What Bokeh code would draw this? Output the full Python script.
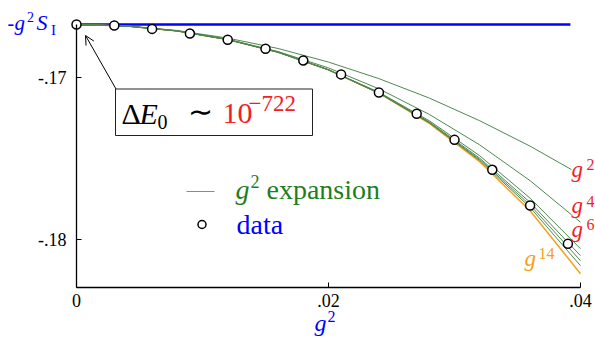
from bokeh.plotting import figure
from bokeh.models import Label, Arrow, OpenHead, BoxAnnotation, FixedTicker, CustomJSTickFormatter
from bokeh.embed import file_html
from bokeh.resources import INLINE

# ---------------- data ----------------
G2_DATA = [0.000, 0.003, 0.006, 0.009, 0.012, 0.015, 0.018, 0.021, 0.024, 0.027, 0.030, 0.033, 0.036, 0.039]
E_DATA = [-0.16671, -0.16677, -0.16698, -0.16727, -0.16765, -0.16821, -0.16893, -0.16979,
          -0.17091, -0.17222, -0.17383, -0.17568, -0.17788, -0.18025]

G2_GRID = [0.000, 0.004, 0.008, 0.012, 0.016, 0.020, 0.024, 0.028, 0.032, 0.036, 0.040]
EXP_G2 = [-0.16671, -0.16680, -0.16708, -0.16755, -0.16819, -0.16903, -0.17005, -0.17125, -0.17265, -0.17422, -0.17598]
EXP_G4 = [-0.16671, -0.16681, -0.16710, -0.16762, -0.16838, -0.16939, -0.17068, -0.17226, -0.17414, -0.17635, -0.17891]
EXP_G6 = [-0.16671, -0.16681, -0.16711, -0.16764, -0.16842, -0.16950, -0.17089, -0.17265, -0.17481, -0.17743, -0.18055]
EXP_G8 = [-0.16671, -0.16681, -0.16711, -0.16764, -0.16842, -0.16951, -0.17093, -0.17272, -0.17496, -0.17769, -0.18098]
EXP_G10 = [-0.16671, -0.16681, -0.16711, -0.16764, -0.16842, -0.16951, -0.17094, -0.17276, -0.17504, -0.17785, -0.18129]
EXP_G12 = [-0.16671, -0.16681, -0.16711, -0.16764, -0.16842, -0.16951, -0.17095, -0.17278, -0.17510, -0.17800, -0.18160]
EXP_G14 = [-0.16671, -0.16681, -0.16711, -0.16764, -0.16842, -0.16951, -0.17095, -0.17281, -0.17518, -0.17821, -0.18209]
GREEN_ORDERS = [EXP_G2, EXP_G4, EXP_G6, EXP_G8, EXP_G10, EXP_G12]

SI_X = [0.0, 0.0392]
SI_VALUE = -0.16671

X_TICKS = [0.0, 0.02, 0.04]
Y_TICKS = [-0.18, -0.17]
X_AXIS_SPAN = (0.0, 0.04)
Y_AXIS_BOTTOM = -0.182944

# ---------------- styling ----------------
SERIF = "Liberation Serif"
BLUE = "#0000ff"
RED = "#f01e28"
ORANGE = "#f5a01a"
CURVE_GREEN = "#4f8752"
LEGEND_LINE_GREEN = "#6aa06a"
TEXT_GREEN = "#1e7e1e"

W, H = 595, 345
PX_PER_X = 12600.0
PX_PER_Y = 16200.0
X0_PX = 76.0
Y17_PX = 77.3

def dx(px):
    return (px - X0_PX) / PX_PER_X

def dy(py):
    return -0.17 - (py - Y17_PX) / PX_PER_Y

p = figure(width=W, height=H, x_range=(dx(0), dx(W)), y_range=(dy(H), dy(0)),
           output_backend="svg", toolbar_location=None,
           min_border=0, min_border_left=0, min_border_right=0, min_border_top=0, min_border_bottom=0)
p.outline_line_color = None
p.grid.visible = False
p.background_fill_color = "white"
p.border_fill_color = "white"

xa = p.xaxis[0]
ya = p.yaxis[0]
xa.fixed_location = Y_AXIS_BOTTOM
ya.fixed_location = 0.0
xa.bounds = X_AXIS_SPAN
ya.bounds = (Y_AXIS_BOTTOM, SI_VALUE)

for ax in (xa, ya):
    ax.axis_line_width = 1.3
    ax.axis_line_color = "black"
    ax.major_tick_in = 5
    ax.major_tick_out = 0
    ax.major_tick_line_width = 1
    ax.minor_tick_line_color = None
    ax.major_label_text_font = SERIF
    ax.major_label_text_font_size = "18px"
    ax.major_label_text_color = "black"

xa.ticker = FixedTicker(ticks=X_TICKS)
ya.ticker = FixedTicker(ticks=Y_TICKS)
fmt_code = 'if (Math.abs(tick) < 1e-12) { return "0"; } return tick.toFixed(2).replace("0.", ".");'
xa.formatter = CustomJSTickFormatter(code=fmt_code)
ya.formatter = CustomJSTickFormatter(code=fmt_code)
xa.major_label_standoff = 7
ya.major_label_standoff = 10

# ---------------- marks ----------------
p.line(SI_X, [SI_VALUE, SI_VALUE], line_color=BLUE, line_width=2.5)
p.line(G2_GRID, EXP_G14, line_color=ORANGE, line_width=1.5)
for ys in GREEN_ORDERS:
    p.line(G2_GRID, ys, line_color=CURVE_GREEN, line_width=1)
p.scatter(G2_DATA, E_DATA, size=9, marker="circle", fill_color="white",
          line_color="black", line_width=1.5)

# ---------------- text helper (px, py = left end, baseline in page pixels) ----------------
def txt(px, py, s, size, color="black", style="normal", bg=None):
    mid = py - 0.3375 * size
    kw = {}
    if bg is not None:
        kw = dict(background_fill_color=bg, background_fill_alpha=1.0)
    p.add_layout(Label(x=dx(px), y=dy(mid), text=s, text_font=SERIF,
                       text_font_size=f"{size}px", text_font_style=style,
                       text_color=color, text_baseline="middle", text_align="left", **kw))

# y label at the top: -g^2 S_I
txt(7, 29.5, "-", 20, BLUE)
txt(14, 29.5, "g", 21, BLUE, "italic")
txt(26.5, 21.5, "2", 14, BLUE)
txt(36, 29.5, "S", 22, BLUE, "italic")
txt(50.5, 34.3, "I", 15, BLUE)

# x axis label: g^2
txt(314, 331, "g", 24, BLUE, "italic")
txt(327, 321, "2", 16, BLUE)

# annotation box with arrow
p.add_layout(BoxAnnotation(left=dx(115), right=dx(312), top=dy(88.5), bottom=dy(135),
                           fill_color="white", fill_alpha=1.0,
                           line_color="#222222", line_width=1, line_alpha=1.0))
p.add_layout(Arrow(end=OpenHead(size=9, line_width=1, line_color="black"),
                   x_start=dx(115.5), y_start=dy(88.5), x_end=dx(85), y_end=dy(35),
                   line_width=1, line_color="black"))
txt(121, 123, "\u0394", 30)
txt(139, 123, "E", 30, "black", "italic")
txt(157, 128, "0", 20)
txt(187, 121, "\u223c", 30)
txt(222, 123, "10", 30, RED)
txt(248, 111, "\u2212722", 23, RED)

# order labels
txt(571, 177, "g", 23, RED, "italic", bg="white")
txt(586, 169, "2", 16, RED)
txt(571, 213, "g", 23, RED, "italic", bg="white")
txt(586, 206, "4", 16, RED)
txt(571, 237, "g", 23, RED, "italic")
txt(586, 229, "6", 16, RED)
txt(524, 266, "g", 23, ORANGE, "italic")
txt(538, 258, "14", 16, ORANGE)

# legend
p.line([dx(186), dx(214)], [dy(191), dy(191)], line_color=LEGEND_LINE_GREEN, line_width=1)
txt(235, 198, "g", 28, TEXT_GREEN, "italic")
txt(250, 187, "2", 18, TEXT_GREEN)
txt(266, 198, "expansion", 28, TEXT_GREEN)
p.scatter([dx(201.5)], [dy(224)], size=8, marker="circle", fill_color="white",
          line_color="black", line_width=1.5)
txt(236, 233, "data", 28, BLUE)

open("out.html", "w").write(file_html(p, INLINE))
